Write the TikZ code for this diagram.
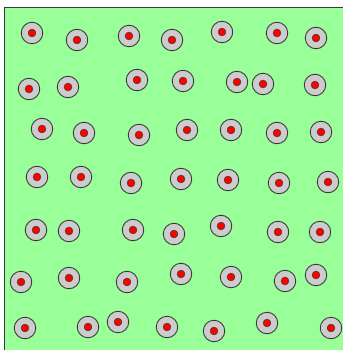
\documentclass[tikz,border=0pt]{standalone}
\usepackage{xcolor}
\usepackage{tikz}

\definecolor{dish}{HTML}{99FF99}
\definecolor{body}{HTML}{CCCCCC}
\definecolor{rim}{HTML}{3A3A3A}

\tikzset{
    cell/.style={circle, draw=rim, fill=body, line width=0.9pt, minimum size=21.5pt, inner sep=0pt,
        path picture={\filldraw[fill=red, draw=rim, line width=0.5pt] (path picture bounding box.center) circle (3.9pt);}}
}

\begin{document}
\begin{tikzpicture}[x=1pt, y=-1pt]
    \useasboundingbox (0, 0) rectangle (343, 350);
    \fill[dish] (4, 8) rectangle (343, 350);
    \draw[rim, line width=1pt] (4, 350) -- (4, 8) -- (343, 8);

    \node[cell] at (32, 33) (c1) {};
    \node[cell] at (77, 40) (c2) {};
    \node[cell] at (129, 36) (c3) {};
    \node[cell] at (172, 40) (c4) {};
    \node[cell] at (222, 32) (c5) {};
    \node[cell] at (277, 33) (c6) {};
    \node[cell] at (316, 38) (c7) {};

    \node[cell] at (29, 89) (c8) {};
    \node[cell] at (68, 87) (c9) {};
    \node[cell] at (137, 80) (c10) {};
    \node[cell] at (183, 81) (c11) {};
    \node[cell] at (237, 82) (c12) {};
    \node[cell] at (263, 84) (c13) {};
    \node[cell] at (315, 85) (c14) {};

    \node[cell] at (42, 129) (c15) {};
    \node[cell] at (84, 133) (c16) {};
    \node[cell] at (139, 135) (c17) {};
    \node[cell] at (187, 130) (c18) {};
    \node[cell] at (231, 130) (c19) {};
    \node[cell] at (277, 133) (c20) {};
    \node[cell] at (321, 132) (c21) {};

    \node[cell] at (37, 177) (c22) {};
    \node[cell] at (81, 177) (c23) {};
    \node[cell] at (131, 183) (c24) {};
    \node[cell] at (181, 179) (c25) {};
    \node[cell] at (228, 180) (c26) {};
    \node[cell] at (279, 183) (c27) {};
    \node[cell] at (328, 182) (c28) {};

    \node[cell] at (36, 230) (c29) {};
    \node[cell] at (69, 231) (c30) {};
    \node[cell] at (133, 230) (c31) {};
    \node[cell] at (174, 234) (c32) {};
    \node[cell] at (221, 226) (c33) {};
    \node[cell] at (278, 232) (c34) {};
    \node[cell] at (320, 232) (c35) {};

    \node[cell] at (21, 282) (c36) {};
    \node[cell] at (69, 278) (c37) {};
    \node[cell] at (127, 282) (c38) {};
    \node[cell] at (181, 274) (c39) {};
    \node[cell] at (231, 277) (c40) {};
    \node[cell] at (285, 281) (c41) {};
    \node[cell] at (316, 275) (c42) {};

    \node[cell] at (25, 328) (c43) {};
    \node[cell] at (88, 327) (c44) {};
    \node[cell] at (118, 322) (c45) {};
    \node[cell] at (167, 327) (c46) {};
    \node[cell] at (214, 331) (c47) {};
    \node[cell] at (267, 323) (c48) {};
    \node[cell] at (331, 328) (c49) {};
\end{tikzpicture}
\end{document}
